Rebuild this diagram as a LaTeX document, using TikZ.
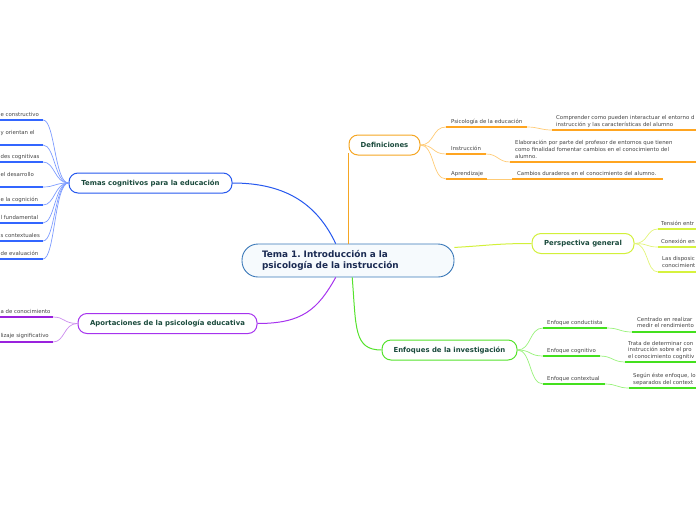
\documentclass[tikz,border=0pt]{standalone}
\usepackage{fontspec}
\setmainfont{DejaVu Sans}
\frenchspacing
\definecolor{leafgray}{HTML}{444444}
\definecolor{brtext}{HTML}{1A4A3C}
\definecolor{maintext}{HTML}{1A2A52}
\definecolor{mainB}{HTML}{3A78B8}
\definecolor{mainF}{HTML}{F6FAFD}
\definecolor{blB}{HTML}{2658EE}
\definecolor{blU}{HTML}{3366FF}
\definecolor{blC}{HTML}{7E9CFF}
\definecolor{orB}{HTML}{F5A623}
\definecolor{orU}{HTML}{FFA520}
\definecolor{orC}{HTML}{FFCB75}
\definecolor{yeB}{HTML}{D2F03A}
\definecolor{yeU}{HTML}{D6F23E}
\definecolor{yeC}{HTML}{E2F47A}
\definecolor{grB}{HTML}{55E22C}
\definecolor{grU}{HTML}{44E01E}
\definecolor{grC}{HTML}{98F27A}
\definecolor{puB}{HTML}{A633EE}
\definecolor{puU}{HTML}{9A22DD}
\definecolor{puC}{HTML}{CC8CEE}
\tikzset{
  leaf/.style={font=\fontsize{5.4}{6.7}\selectfont, text=leafgray, inner sep=0pt},
  lb/.style={leaf, anchor=base west},
  lm/.style={leaf, anchor=north west, align=left},
  brbox/.style={draw, line width=1pt, rounded corners=9pt, fill=white, minimum height=20pt, inner sep=0pt, font=\bfseries\fontsize{6.9}{8}\selectfont, text=brtext},
  mainbox/.style={draw=mainB, line width=0.9pt, fill=mainF, rounded corners=16pt, minimum height=33pt, text width=172pt, inner xsep=20pt, inner ysep=0pt, align=left, font=\bfseries\fontsize{8.9}{11.3}\selectfont, text=maintext},
  ul/.style={line width=1.7pt},
  cn/.style={line width=0.7pt},
  mc/.style={line width=1pt},
}
\begin{document}
\begin{tikzpicture}[x=1pt,y=-1pt]
\useasboundingbox (0,0) rectangle (696,520);

% ---------- central and branch nodes ----------
\node[mainbox] (main) at (348,260.5) {Tema 1. Introducción a la\\psicología de la instrucción};
\node[brbox, draw=orB, minimum width=71pt] (def) at (384.5,145) {Definiciones};
\node[brbox, draw=blB, minimum width=163pt] (tem) at (150.5,183) {Temas cognitivos para la educación};
\node[brbox, draw=puB, minimum width=179pt] (apo) at (167.5,323.5) {Aportaciones de la psicología educativa};
\node[brbox, draw=grB, minimum width=135pt] (enf) at (449.5,350) {Enfoques de la investigación};
\node[brbox, draw=yeB, minimum width=102pt] (per) at (583,243.5) {Perspectiva general};

% ---------- main connectors ----------
\coordinate (defa) at (348,153);
\draw[mc, orB] (main.north) -- (defa);
\draw[mc, blB] (main.126) .. controls +(-18,-38) and +(55,0) .. (tem.east);
\draw[mc, puB] (main.234) .. controls +(-18,32) and +(45,0) .. (apo.east);
\draw[mc, grB] (main.284) .. controls +(4,50) and +(-28,0) .. (enf.west);
\draw[mc, yeB] (main.7) .. controls +(35,-2) and +(-35,0) .. (per.west);

% ---------- Definiciones ----------
\coordinate (o1a) at (446,127); \coordinate (o1b) at (527,127);
\coordinate (o2a) at (446,154); \coordinate (o2b) at (486,154);
\coordinate (o3a) at (446,179); \coordinate (o3b) at (487,179);
\coordinate (p1a) at (552,130); \coordinate (p1b) at (700,130);
\coordinate (p2a) at (510,162); \coordinate (p2b) at (700,162);
\coordinate (p3a) at (512,179); \coordinate (p3b) at (663,179);
\foreach \c in {o1a,o2a,o3a}
  \draw[cn, orC] (def.east) .. controls +(14,0) and +(-14,0) .. (\c);
\draw[cn, orC] (o1b) .. controls +(12,0) and +(-12,0) .. (p1a);
\draw[cn, orC] (o2b) .. controls +(12,0) and +(-12,0) .. (p2a);
\draw[cn, orC] (o3b) -- (p3a);
\draw[ul, orU] (o1a) -- (o1b);
\draw[ul, orU] (o2a) -- (o2b);
\draw[ul, orU] (o3a) -- (o3b);
\draw[ul, orU] (p1a) -- (p1b);
\draw[ul, orU] (p2a) -- (p2b);
\draw[ul, orU] (p3a) -- (p3b);
\node[lb] (t1) at (451,123) {Psicología de la educación};
\node[lb] (t2) at (451,150) {Instrucción};
\node[lb] (t3) at (451,175) {Aprendizaje};
\node[lm] (t4) at (556,115.2) {Comprender como pueden interactuar el entorno d\\instrucción y las características del alumno};
\node[lm] (t5) at (515,140.4) {Elaboración por parte del profesor de entornos que tienen\\como finalidad fomentar cambios en el conocimiento del\\alumno.};
\node[lb] (t6) at (517,175) {Cambios duraderos en el conocimiento del alumno.};

% ---------- Perspectiva general ----------
\coordinate (y1a) at (658,229); \coordinate (y1b) at (700,229);
\coordinate (y2a) at (658,247); \coordinate (y2b) at (700,247);
\coordinate (y3a) at (658,272); \coordinate (y3b) at (700,272);
\foreach \c in {y1a,y2a,y3a}
  \draw[cn, yeC] (per.east) .. controls +(14,0) and +(-12,0) .. (\c);
\draw[ul, yeU] (y1a) -- (y1b);
\draw[ul, yeU] (y2a) -- (y2b);
\draw[ul, yeU] (y3a) -- (y3b);
\node[lb] (y1) at (661,225) {Tensión entr};
\node[lb] (y2) at (661,243) {Conexión en};
\node[lm] (y3) at (662,256.6) {Las disposic\\conocimient};

% ---------- Enfoques de la investigación ----------
\coordinate (g1a) at (543,328); \coordinate (g1b) at (607,328);
\coordinate (g2a) at (543,356); \coordinate (g2b) at (600,356);
\coordinate (g3a) at (543,384); \coordinate (g3b) at (605,384);
\coordinate (h1a) at (632,332); \coordinate (h1b) at (700,332);
\coordinate (h2a) at (625,362); \coordinate (h2b) at (700,362);
\coordinate (h3a) at (629,388); \coordinate (h3b) at (700,388);
\foreach \c in {g1a,g2a,g3a}
  \draw[cn, grC] (enf.east) .. controls +(14,0) and +(-14,0) .. (\c);
\draw[cn, grC] (g1b) .. controls +(12,0) and +(-12,0) .. (h1a);
\draw[cn, grC] (g2b) .. controls +(12,0) and +(-12,0) .. (h2a);
\draw[cn, grC] (g3b) .. controls +(12,0) and +(-12,0) .. (h3a);
\draw[ul, grU] (g1a) -- (g1b);
\draw[ul, grU] (g2a) -- (g2b);
\draw[ul, grU] (g3a) -- (g3b);
\draw[ul, grU] (h1a) -- (h1b);
\draw[ul, grU] (h2a) -- (h2b);
\draw[ul, grU] (h3a) -- (h3b);
\node[lb] (e1) at (547,324) {Enfoque conductista};
\node[lb] (e2) at (547,352) {Enfoque cognitivo};
\node[lb] (e3) at (547,380) {Enfoque contextual};
\node[lm] (f1) at (637,316.8) {Centrado en realizar\\medir el rendimiento};
\node[lm] (f2) at (628,340.8) {Trata de determinar con\\instrucción sobre el pro\\el conocimiento cognitiv};
\node[lm] (f3) at (633,372.8) {Según éste enfoque, lo\\separados del context};

% ---------- Temas cognitivos ----------
\foreach \i/\y in {1/120,2/145,3/162,4/187,5/205,6/223,7/241,8/259}{
  \coordinate (b\i a) at (-5,\y);
  \coordinate (b\i b) at (43,\y);
}
\foreach \i in {1,...,8}
  \draw[cn, blC] (tem.west) .. controls +(-14,0) and +(12,0) .. (b\i b);
\foreach \i in {1,...,8}
  \draw[ul, blU] (b\i a) -- (b\i b);
\node[lb] (c1) at (0.4,116) {e constructivo};
\node[lb] (c2) at (0.4,134) {y orientan el};
\node[lb] (c3) at (0.4,158) {des cognitivas};
\node[lb] (c4) at (0.4,176) {el desarrollo};
\node[lb] (c5) at (0.4,201) {e la cognición};
\node[lb] (c6) at (0.4,219) {l fundamental};
\node[lb] (c7) at (0.4,237) {s contextuales};
\node[lb] (c8) at (0.4,255) {de evaluación};

% ---------- Aportaciones ----------
\coordinate (q1a) at (-5,317); \coordinate (q1b) at (53,317);
\coordinate (q2a) at (-5,342); \coordinate (q2b) at (53,342);
\draw[cn, puC] (apo.west) .. controls +(-14,0) and +(12,0) .. (q1b);
\draw[cn, puC] (apo.west) .. controls +(-14,0) and +(12,0) .. (q2b);
\draw[ul, puU] (q1a) -- (q1b);
\draw[ul, puU] (q2a) -- (q2b);
\node[lb] (r1) at (0.4,313) {a de conocimiento};
\node[lb] (r2) at (0.4,337) {lizaje significativo};
\end{tikzpicture}
\end{document}
